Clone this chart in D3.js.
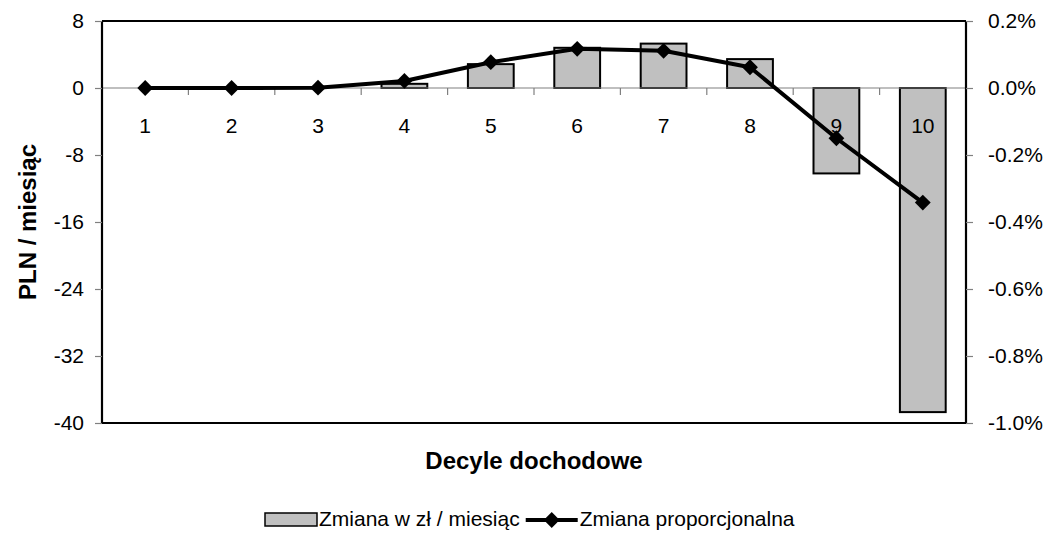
<!DOCTYPE html>
<html lang="pl">
<head>
  <meta charset="UTF-8">
  <title>Decyle dochodowe</title>
  <script src="https://d3js.org/d3.v7.min.js"></script>
  <style>
    body {
      margin: 0;
      background: #fff;
      font-family: "Liberation Sans", Arial, sans-serif;
    }
    svg text { fill: #000; }
  </style>
</head>
<body>
  <svg width="1052" height="533"></svg>

  <script>
    // dane
    const decyle = ["1", "2", "3", "4", "5", "6", "7", "8", "9", "10"];
    const zmianaZl = [0, 0, 0, 0.5, 2.85, 4.8, 5.3, 3.45, -10.2, -38.7];   // PLN / miesiąc
    const zmianaProc = [0, 0, 0.001, 0.021, 0.077, 0.117, 0.111, 0.062, -0.150, -0.342]; // %
    const leftTicks = [8, 0, -8, -16, -24, -32, -40];
    const rightTicks = [0.2, 0, -0.2, -0.4, -0.6, -0.8, -1.0];

    const svg = d3.select("svg");
    const pLeft = 102, pRight = 966, pTop = 21, pBottom = 423;
    const fs = 21;

    const x = d3.scaleBand().domain(decyle).range([pLeft, pRight])
      .paddingInner(0.47).paddingOuter(0.235);
    const y = d3.scaleLinear().domain([-40, 8]).range([pBottom, pTop]);
    const y2 = d3.scaleLinear().domain([-1.0, 0.2]).range([pBottom, pTop]);
    const cx = d => x(d) + x.bandwidth() / 2;

    // ramka wykresu (góra/dół)
    svg.append("line").attr("x1", pLeft).attr("x2", pRight).attr("y1", pTop).attr("y2", pTop)
      .attr("stroke", "#000").attr("stroke-width", 2);
    svg.append("line").attr("x1", pLeft).attr("x2", pRight).attr("y1", pBottom).attr("y2", pBottom)
      .attr("stroke", "#000").attr("stroke-width", 2);

    // słupki
    svg.selectAll("rect.bar")
      .data(zmianaZl)
      .join("rect")
      .attr("class", "bar")
      .attr("x", (d, i) => x(decyle[i]))
      .attr("width", x.bandwidth())
      .attr("y", d => y(Math.max(0, d)))
      .attr("height", d => Math.abs(y(d) - y(0)))
      .attr("fill", "#c0c0c0")
      .attr("stroke", "#000")
      .attr("stroke-width", 2)
      .style("display", d => d === 0 ? "none" : null);

    // linia zera + kreski między kategoriami
    svg.append("line").attr("x1", pLeft).attr("x2", pRight).attr("y1", y(0)).attr("y2", y(0))
      .attr("stroke", "#808080").attr("stroke-width", 1.2);
    const half = x.step() * x.paddingInner() / 2;
    svg.selectAll("line.cat")
      .data(decyle.slice(1))
      .join("line")
      .attr("class", "cat")
      .attr("x1", d => x(d) - half).attr("x2", d => x(d) - half)
      .attr("y1", y(0)).attr("y2", y(0) + 7)
      .attr("stroke", "#808080").attr("stroke-width", 1.2);

    // etykiety decyli
    const xAxis = svg.append("g")
      .attr("transform", `translate(0,${y(0)})`)
      .call(d3.axisBottom(x).tickSize(0).tickPadding(30));
    xAxis.select(".domain").remove();
    xAxis.selectAll("text")
      .attr("font-size", fs)
      .attr("font-family", "Liberation Sans, Arial, sans-serif");

    // oś lewa
    const yAxis = svg.append("g")
      .attr("transform", `translate(${pLeft},0)`)
      .call(d3.axisLeft(y).tickValues(leftTicks).tickSize(7).tickPadding(11).tickFormat(d => String(d)));
    yAxis.select(".domain").attr("stroke", "#000").attr("stroke-width", 2.2).attr("d", `M0,${pTop}V${pBottom}`);
    yAxis.selectAll(".tick line").attr("stroke", "#808080").attr("stroke-width", 1.2);
    yAxis.selectAll("text").attr("font-size", fs).attr("font-family", "Liberation Sans, Arial, sans-serif");

    // oś prawa
    const y2Axis = svg.append("g")
      .attr("transform", `translate(${pRight},0)`)
      .call(d3.axisRight(y2).tickValues(rightTicks).tickSize(7).tickPadding(15)
        .tickFormat(d => d.toFixed(1) + "%"));
    y2Axis.select(".domain").attr("stroke", "#000").attr("stroke-width", 2.2).attr("d", `M0,${pTop}V${pBottom}`);
    y2Axis.selectAll(".tick line").attr("stroke", "#808080").attr("stroke-width", 1.2);
    y2Axis.selectAll("text").attr("font-size", fs).attr("font-family", "Liberation Sans, Arial, sans-serif");

    // linia proporcjonalna
    const line = d3.line()
      .x((d, i) => cx(decyle[i]))
      .y(d => y2(d));
    svg.append("path")
      .datum(zmianaProc)
      .attr("d", line)
      .attr("fill", "none")
      .attr("stroke", "#000")
      .attr("stroke-width", 4)
      .attr("stroke-linejoin", "round");

    const diamond = d3.symbol().type(d3.symbolSquare).size(125);
    svg.selectAll("path.marker")
      .data(zmianaProc)
      .join("path")
      .attr("class", "marker")
      .attr("d", diamond)
      .attr("transform", (d, i) => `translate(${cx(decyle[i])},${y2(d)}) rotate(45)`)
      .attr("fill", "#000");

    // tytuły osi
    svg.append("text")
      .attr("transform", `translate(36,${(pTop + pBottom) / 2}) rotate(-90)`)
      .attr("text-anchor", "middle")
      .attr("font-size", 24)
      .attr("font-weight", "bold")
      .text("PLN / miesiąc");

    svg.append("text")
      .attr("x", (pLeft + pRight) / 2)
      .attr("y", 469)
      .attr("text-anchor", "middle")
      .attr("font-size", 24)
      .attr("font-weight", "bold")
      .text("Decyle dochodowe");

    // legenda
    const legY = 526;
    const leg = svg.append("g");
    leg.append("rect")
      .attr("x", 265).attr("y", legY - 13).attr("width", 52).attr("height", 13)
      .attr("fill", "#c0c0c0").attr("stroke", "#000").attr("stroke-width", 1.5);
    const t1 = leg.append("text")
      .attr("x", 319).attr("y", legY)
      .attr("font-size", fs)
      .text("Zmiana w zł / miesiąc");
    const t1end = 319 + t1.node().getComputedTextLength();
    const lx1 = t1end + 6, lx2 = lx1 + 52;
    leg.append("line")
      .attr("x1", lx1).attr("x2", lx2).attr("y1", legY - 6).attr("y2", legY - 6)
      .attr("stroke", "#000").attr("stroke-width", 4);
    leg.append("path")
      .attr("d", diamond)
      .attr("transform", `translate(${(lx1 + lx2) / 2},${legY - 6}) rotate(45)`)
      .attr("fill", "#000");
    leg.append("text")
      .attr("x", lx2 + 2).attr("y", legY)
      .attr("font-size", fs)
      .text("Zmiana proporcjonalna");
  </script>
</body>
</html>
